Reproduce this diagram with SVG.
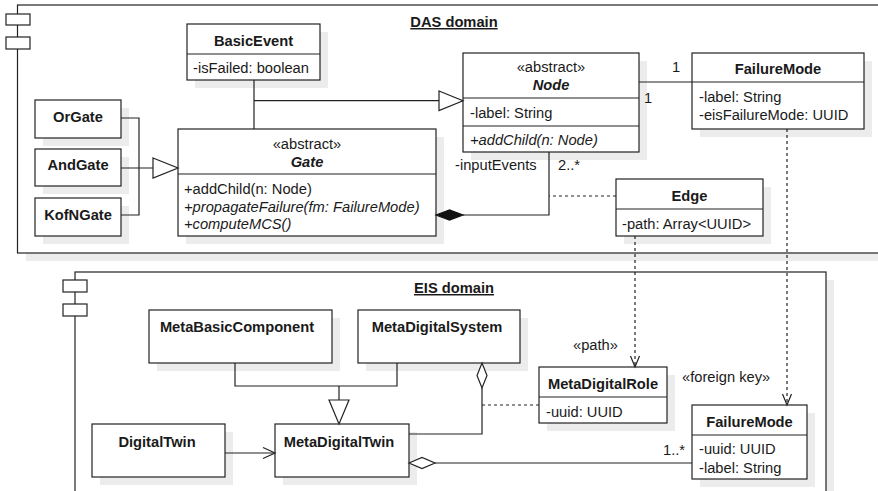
<svg xmlns="http://www.w3.org/2000/svg" width="878" height="491" viewBox="0 0 878 491">
<style>
text{font-family:"Liberation Sans",Arial,sans-serif;font-size:14.7px;fill:#1a1a1a}
.b{font-weight:bold}
.i{font-style:italic}
.m{text-anchor:middle}
.u{text-decoration:underline}
.box{fill:#fff;stroke:#222;stroke-width:1.2}
.sh{fill:#ececec}
.ln{fill:none;stroke:#222;stroke-width:1.2}
.dash{fill:none;stroke:#222;stroke-width:1.2;stroke-dasharray:3,3}
.wt{fill:#fff;stroke:#222;stroke-width:1.2}
.bk{fill:#111;stroke:#111;stroke-width:1.2}
</style>
<rect width="878" height="491" fill="#fff"/>

<g id="das-package">
<rect class="sh" x="26" y="13" width="870" height="248"/>
<rect class="box" x="17.5" y="5" width="870" height="248"/>
<rect class="box" x="6" y="14" width="24" height="11"/>
<rect class="box" x="6" y="37" width="24" height="12"/>
<text class="b m u" x="454" y="27">DAS domain</text>
</g>

<g id="eis-package">
<rect class="sh" x="83" y="280" width="751" height="230"/>
<rect class="box" x="75" y="272" width="751" height="230"/>
<rect class="box" x="63" y="280" width="24" height="12"/>
<rect class="box" x="63" y="304" width="24" height="12"/>
<text class="b m u" x="454" y="293">EIS domain</text>
</g>

<g id="BasicEvent">
<rect class="sh" x="195" y="32" width="133" height="56"/>
<rect class="box" x="187" y="24" width="133" height="56"/>
<line class="ln" x1="187" y1="54" x2="320" y2="54"/>
<text class="b m" x="253.5" y="46">BasicEvent</text>
<text x="193" y="73">-isFailed: boolean</text>
</g>

<g id="OrGate">
<rect class="sh" x="43" y="108" width="86" height="38"/>
<rect class="box" x="35" y="100" width="86" height="38"/>
<text class="b m" x="78" y="122">OrGate</text>
</g>
<g id="AndGate">
<rect class="sh" x="43" y="157" width="86" height="37"/>
<rect class="box" x="35" y="149" width="86" height="37"/>
<text class="b m" x="78" y="170">AndGate</text>
</g>
<g id="KofNGate">
<rect class="sh" x="43" y="206" width="86" height="38"/>
<rect class="box" x="35" y="198" width="86" height="38"/>
<text class="b m" x="78" y="220">KofNGate</text>
</g>

<g id="Gate">
<rect class="sh" x="186" y="137" width="258" height="107"/>
<rect class="box" x="178" y="129" width="258" height="107"/>
<line class="ln" x1="178" y1="174" x2="436" y2="174"/>
<text class="m" x="307" y="149">«abstract»</text>
<text class="b i m" x="307" y="167">Gate</text>
<text x="184" y="194">+addChild(n: Node)</text>
<text class="i" x="184" y="212">+propagateFailure(fm: FailureMode)</text>
<text class="i" x="184" y="229">+computeMCS()</text>
</g>

<g id="Node">
<rect class="sh" x="471" y="61" width="176" height="99"/>
<rect class="box" x="463" y="53" width="176" height="99"/>
<line class="ln" x1="463" y1="98" x2="639" y2="98"/>
<line class="ln" x1="463" y1="126" x2="639" y2="126"/>
<text class="m" x="551" y="72">«abstract»</text>
<text class="b i m" x="551" y="90">Node</text>
<text x="470" y="118">-label: String</text>
<text class="i" x="470" y="145">+addChild(n: Node)</text>
</g>

<g id="FailureMode-DAS">
<rect class="sh" x="700" y="61" width="172" height="76"/>
<rect class="box" x="692" y="53" width="172" height="76"/>
<line class="ln" x1="692" y1="82" x2="864" y2="82"/>
<text class="b m" x="778" y="74">FailureMode</text>
<text x="699" y="102">-label: String</text>
<text x="699" y="120">-eisFailureMode: UUID</text>
</g>

<g id="Edge">
<rect class="sh" x="624" y="187" width="147" height="57"/>
<rect class="box" x="616" y="179" width="147" height="57"/>
<line class="ln" x1="616" y1="209" x2="763" y2="209"/>
<text class="b m" x="689.5" y="201">Edge</text>
<text x="622" y="229">-path: Array&lt;UUID&gt;</text>
</g>

<g id="MetaBasicComponent">
<rect class="sh" x="157" y="318" width="183" height="53"/>
<rect class="box" x="149" y="310" width="183" height="53"/>
<text class="b m" x="237" y="332">MetaBasicComponent</text>
</g>

<g id="MetaDigitalSystem">
<rect class="sh" x="366" y="318" width="162" height="53"/>
<rect class="box" x="358" y="310" width="162" height="53"/>
<text class="b m" x="437" y="332">MetaDigitalSystem</text>
</g>

<g id="DigitalTwin">
<rect class="sh" x="100" y="432" width="133" height="53"/>
<rect class="box" x="92" y="424" width="133" height="53"/>
<text class="b m" x="157" y="447">DigitalTwin</text>
</g>

<g id="MetaDigitalTwin">
<rect class="sh" x="283" y="432" width="134" height="53"/>
<rect class="box" x="275" y="424" width="134" height="53"/>
<text class="b m" x="339" y="447">MetaDigitalTwin</text>
</g>

<g id="MetaDigitalRole">
<rect class="sh" x="547" y="375" width="128" height="56"/>
<rect class="box" x="539" y="367" width="128" height="56"/>
<line class="ln" x1="539" y1="397" x2="667" y2="397"/>
<text class="b m" x="603" y="389">MetaDigitalRole</text>
<text x="546" y="417">-uuid: UUID</text>
</g>

<g id="FailureMode-EIS">
<rect class="sh" x="700" y="413" width="115" height="74"/>
<rect class="box" x="692" y="405" width="115" height="74"/>
<line class="ln" x1="692" y1="435" x2="807" y2="435"/>
<text class="b m" x="749.5" y="427">FailureMode</text>
<text x="699" y="454">-uuid: UUID</text>
<text x="699" y="473">-label: String</text>
</g>

<g id="connectors">
<path class="ln" d="M121,118 H139 V215 H121 M121,168 H153"/>
<polygon class="wt" points="153,158 178,168 153,178"/>
<path class="ln" d="M254,80 V129 M254,100.7 H439"/>
<polygon class="wt" points="439,91 463,100.7 439,110.5"/>
<path class="ln" d="M639,82 H692"/>
<path class="ln" d="M549,152 V215 H463"/>
<polygon class="bk" points="436,215 449.5,210 463,215 449.5,220"/>
<path class="dash" d="M616,196 H549"/>
<path class="dash" d="M635,236 V366"/>
<path class="ln" d="M630.5,356 L635,367 L639.5,356"/>
<path class="dash" d="M787,129 V404"/>
<path class="ln" d="M782.5,394 L787,405 L791.5,394"/>
<path class="ln" d="M235,363 V386 H397 V363 M339,386 V400"/>
<polygon class="wt" points="329,400 349,400 339,424"/>
<path class="ln" d="M225,453 H275"/>
<path class="ln" d="M263,447.5 L275,453 L263,458.5"/>
<path class="ln" d="M409,434 H482 V388"/>
<polygon class="wt" points="482,363 487,375.5 482,388 477,375.5"/>
<path class="dash" d="M482,405 H539"/>
<path class="ln" d="M435,463 H692"/>
<polygon class="wt" points="409,463 422,457.5 435,463 422,468.5"/>
<text class="m" x="676" y="72">1</text>
<text class="m" x="648" y="103">1</text>
<text x="455" y="170">-inputEvents</text>
<text x="558" y="170">2..*</text>
<text x="573" y="350">«path»</text>
<text x="682" y="382">«foreign key»</text>
<text x="663" y="455">1..*</text>
</g>
</svg>
